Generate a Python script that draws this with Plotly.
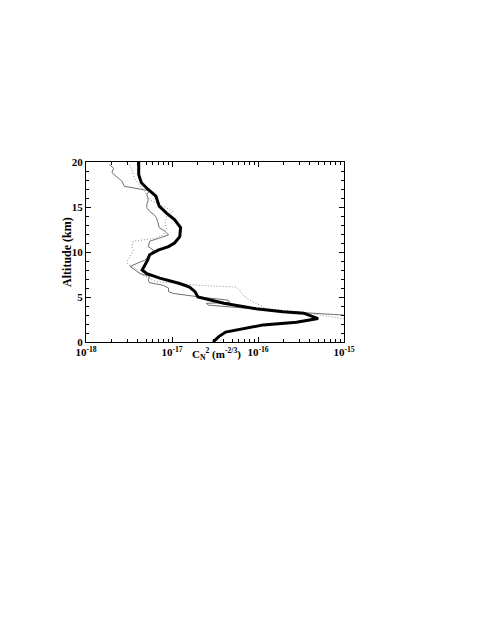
import plotly.graph_objects as go

# altitude (km) and Cn2 (m^-2/3) for the three profiles
alt_thick = [0, 0.6, 1.1, 1.5, 1.9, 2.2, 2.6, 3.2, 3.35, 3.7, 4.3, 5.0, 5.6, 6.1, 6.5,
             7.1, 7.6, 8.0, 8.6, 9.1, 9.7, 10.2, 10.6, 11.0, 11.7, 12.7, 13.6, 14.3,
             15.1, 15.6, 16.2, 17.0, 17.7, 18.6, 20.0]
cn2_thick = [3.0e-17, 3.5e-17, 4.2e-17, 6.8e-17, 1.15e-16, 2.8e-16, 5.0e-16, 3.4e-16,
             1.95e-16, 9.5e-17, 4.0e-17, 2.0e-17, 1.85e-17, 1.6e-17, 1.23e-17, 7.2e-18,
             5.1e-18, 4.5e-18, 4.9e-18, 5.2e-18, 5.5e-18, 6.9e-18, 9.1e-18, 1.07e-17,
             1.23e-17, 1.26e-17, 1.07e-17, 8.7e-18, 7.1e-18, 6.8e-18, 6.5e-18, 5.2e-18,
             4.4e-18, 4.1e-18, 4.1e-18]

alt_thin = [2.6, 3.0, 3.35, 3.7, 3.9, 4.1, 4.3, 4.4, 4.65, 5.0, 5.4, 5.6, 6.0, 6.3, 6.6,
            6.9, 7.3, 7.6, 8.0, 8.4, 8.8, 9.1, 9.7, 10.2, 10.6, 11.2, 11.5, 11.9, 12.3,
            12.7, 13.2, 13.8, 14.2, 14.5, 14.9, 15.3, 15.8, 16.4, 16.8, 17.0, 17.3, 17.9,
            18.3, 18.8, 19.3, 19.7]
cn2_thin = [2.0e-15, 9.7e-16, 2.35e-16, 9.6e-17, 4.7e-17, 2.65e-17, 2.5e-17, 4.7e-17,
            4.5e-17, 2.1e-17, 1.03e-17, 9.1e-18, 9.1e-18, 7.9e-18, 5.45e-18, 5.3e-18,
            5.5e-18, 4.25e-18, 3.7e-18, 3.25e-18, 4.06e-18, 4.85e-18, 5.5e-18, 6.1e-18,
            5.3e-18, 5.5e-18, 6.9e-18, 9.1e-18, 8.3e-18, 7.1e-18, 6.9e-18, 6.6e-18,
            6.1e-18, 5.5e-18, 5.1e-18, 5.1e-18, 5.3e-18, 5.1e-18, 5.5e-18, 4.1e-18,
            2.8e-18, 2.6e-18, 2.3e-18, 2.0e-18, 2.1e-18, 1.87e-18]

alt_dot = [2.3, 2.6, 3.0, 3.35, 3.7, 4.1, 4.65, 5.2, 5.8, 6.1, 6.3, 6.7, 7.1, 7.6, 8.1,
           8.6, 8.9, 9.5, 10.1, 10.6, 11.2, 11.5, 11.9, 12.5, 13.2, 14.0, 14.5, 14.9,
           15.3, 15.8, 16.6, 17.3, 18.1, 19.2, 19.7]
cn2_dot = [1.5e-15, 1.0e-15, 5.3e-16, 3.1e-16, 1.26e-16, 1.05e-16, 8.0e-17, 6.7e-17,
           6.1e-17, 5.6e-17, 2.1e-17, 6.6e-18, 5.5e-18, 4.25e-18, 3.9e-18, 3.1e-18,
           2.97e-18, 3.25e-18, 3.55e-18, 3.4e-18, 3.55e-18, 6.1e-18, 7.9e-18, 8.7e-18,
           8.3e-18, 8.7e-18, 1.03e-17, 8.7e-18, 7.2e-18, 5.5e-18, 4.9e-18, 4.25e-18,
           3.7e-18, 3.4e-18, 3.2e-18]

x_ticks = [1e-18, 1e-17, 1e-16, 1e-15]
x_ticktext = ["10<sup>-18</sup>", "10<sup>-17</sup>", "10<sup>-16</sup>", "10<sup>-15</sup>"]
y_ticks = [0, 5, 10, 15, 20]

# minor log ticks 2..9 in each decade
x_minor = [m * d for d in x_ticks[:-1] for m in range(2, 10)]

serif = "Liberation Serif"

fig = go.Figure()
fig.add_trace(go.Scatter(x=cn2_thin, y=alt_thin, mode="lines",
                         line=dict(color="#707070", width=1)))
fig.add_trace(go.Scatter(x=cn2_dot, y=alt_dot, mode="lines",
                         line=dict(color="#8c8c8c", width=1, dash="1px,2px")))
fig.add_trace(go.Scatter(x=cn2_thick, y=alt_thick, mode="lines",
                         line=dict(color="black", width=3)))

axis_common = dict(showline=True, linecolor="black", linewidth=1, mirror="allticks",
                   ticks="inside", ticklen=5, tickcolor="black", showgrid=False,
                   zeroline=False,
                   tickfont=dict(family=serif, size=11, color="black", weight="bold"))

fig.update_xaxes(type="log", range=[-18, -15], tickvals=x_ticks, ticktext=x_ticktext,
                 minor=dict(ticks="inside", ticklen=3, tickcolor="black",
                            tickvals=x_minor, showgrid=False),
                 **axis_common)
fig.update_yaxes(range=[0, 20], tickvals=y_ticks,
                 minor=dict(ticks="inside", ticklen=3, tickcolor="black", dtick=1,
                            showgrid=False),
                 **axis_common)

fig.update_layout(
    width=475, height=619,
    margin=dict(l=78, r=139, t=154, b=285),
    paper_bgcolor="white", plot_bgcolor="white",
    showlegend=False,
    annotations=[
        dict(text="C<sub>N</sub><sup>2</sup> (m<sup>-2/3</sup>)", xref="paper",
             yref="paper", x=0.505, y=-0.065, xanchor="center", yanchor="middle",
             showarrow=False,
             font=dict(family=serif, size=11, color="black", weight="bold")),
        dict(text="Altitude (km)", xref="paper", yref="paper", x=-0.074, y=0.5,
             xanchor="center", yanchor="middle", textangle=-90, showarrow=False,
             font=dict(family=serif, size=12, color="black", weight="bold")),
    ],
)

fig.write_html("out.html")
